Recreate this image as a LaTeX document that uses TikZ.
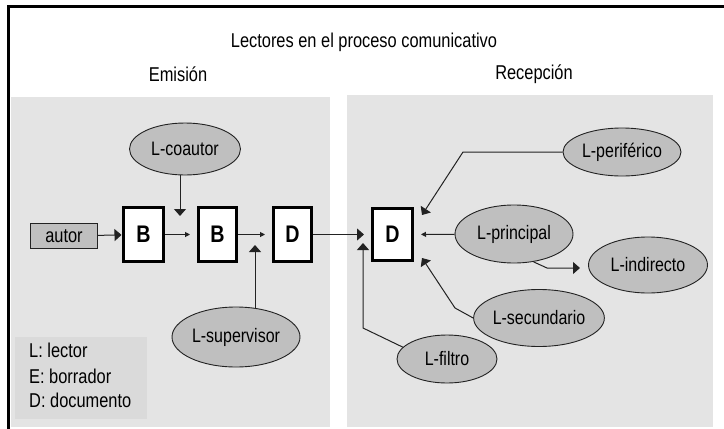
\documentclass[tikz,border=0pt]{standalone}
\usepackage{fontspec}
\setmainfont[FakeStretch=0.82]{Liberation Sans}
\usetikzlibrary{arrows.meta,shapes.geometric}
\definecolor{panel}{HTML}{E4E4E4}
\definecolor{legendbg}{HTML}{DADADA}
\definecolor{ellfill}{HTML}{BFBFBF}
\definecolor{linec}{HTML}{222222}
\begin{document}
\begin{tikzpicture}[x=1pt,y=-1pt,
  txt/.style={font=\fontsize{20}{22}\selectfont, inner sep=0pt, text=black},
  ell/.style={ellipse, draw=linec, line width=0.9pt, fill=ellfill, inner sep=0pt, font=\fontsize{19.5}{22}\selectfont},
  docbox/.style={rectangle, draw=black, line width=3pt, fill=white, inner sep=0pt, font=\bfseries\fontsize{24}{26}\selectfont},
  bigarr/.style={draw=linec, line width=1pt, -{Triangle[length=7pt,width=12pt]}},
  smallarr/.style={draw=linec, line width=1pt, -{Triangle[length=5pt,width=5pt]}},
]
\useasboundingbox (0,0) rectangle (724,429);
% frame and panels
\draw[line width=3pt] (8,429) -- (8,6) -- (724,6);
\fill[panel] (11,97) rectangle (330,427);
\fill[panel] (347,95) rectangle (713,427);
\fill[legendbg] (15,337) rectangle (147,419);
% headings
\node[txt] (title) at (364,42) {Lectores en el proceso comunicativo};
\node[txt] (emision) at (178,74) {Emisión};
\node[txt] (recepcion) at (534,74) {Recepción};
% legend
\node[txt, anchor=west] (leg1) at (29,350) {L: lector};
\node[txt, anchor=west] (leg2) at (29,376) {E: borrador};
\node[txt, anchor=west] (leg3) at (29,400) {D: documento};
% boxes
\node[rectangle, draw=linec, line width=0.9pt, fill=ellfill, minimum width=67pt, minimum height=25pt, inner sep=0pt, font=\fontsize{20}{22}\selectfont] (autor) at (64,236) {autor};
\node[docbox, minimum width=40pt, minimum height=54pt] (B1) at (143.5,234.5) {B};
\node[docbox, minimum width=38pt, minimum height=54pt] (B2) at (217.5,234.5) {B};
\node[docbox, minimum width=38pt, minimum height=54pt] (D1) at (292.5,234.5) {D};
\node[docbox, minimum width=40pt, minimum height=52pt] (D2) at (392.5,234.5) {D};
% ellipses
\node[ell, minimum width=111pt, minimum height=52pt] (coautor) at (185,149) {L-coautor};
\node[ell, minimum width=128pt, minimum height=60pt] (supervisor) at (236,337) {L-supervisor};
\node[ell, minimum width=118pt, minimum height=48pt] (peri) at (622,152) {L-periférico};
\node[ell, minimum width=118pt, minimum height=58pt] (princ) at (514,234) {L-principal};
\node[ell, minimum width=119pt, minimum height=56pt] (ind) at (648,265) {L-indirecto};
\node[ell, minimum width=118pt, minimum height=57pt] (sec) at (539,318) {L-secundario};
\node[ell, minimum width=100pt, minimum height=48pt] (filtro) at (447,359) {L-filtro};
% helper coordinates
\coordinate (cA) at (180,216);
\coordinate (cS) at (255,245);
\coordinate (cF1) at (363,328);
\coordinate (cF) at (363,243);
\coordinate (cP1) at (463,152);
\coordinate (cP) at (422,215);
\coordinate (cS1) at (455,308);
\coordinate (cSe) at (422,258);
\coordinate (cI1) at (547,268);
\coordinate (cI) at (580,268);
% connectors
\draw[bigarr, shorten >=0.5pt] (autor) -- (B1);
\draw[smallarr, shorten >=7pt] (B1) -- (B2);
\draw[smallarr, shorten >=7pt] (B2) -- (D1);
\draw[bigarr, shorten >=7pt] (D1) -- (D2);
\draw[bigarr] (coautor.south -| cA) -- (cA);
\draw[bigarr] (cS |- supervisor.56) -- (cS);
\draw[bigarr] (filtro.165) -- (cF1) -- (cF);
\draw[bigarr] (peri.west) -- (cP1) -- (cP);
\draw[smallarr, shorten >=7pt] (princ) -- (D2);
\draw[bigarr] (sec.west) -- (cS1) -- (cSe);
\draw[bigarr] (princ.-55) -- (cI1) -- (cI);
\end{tikzpicture}
\end{document}
